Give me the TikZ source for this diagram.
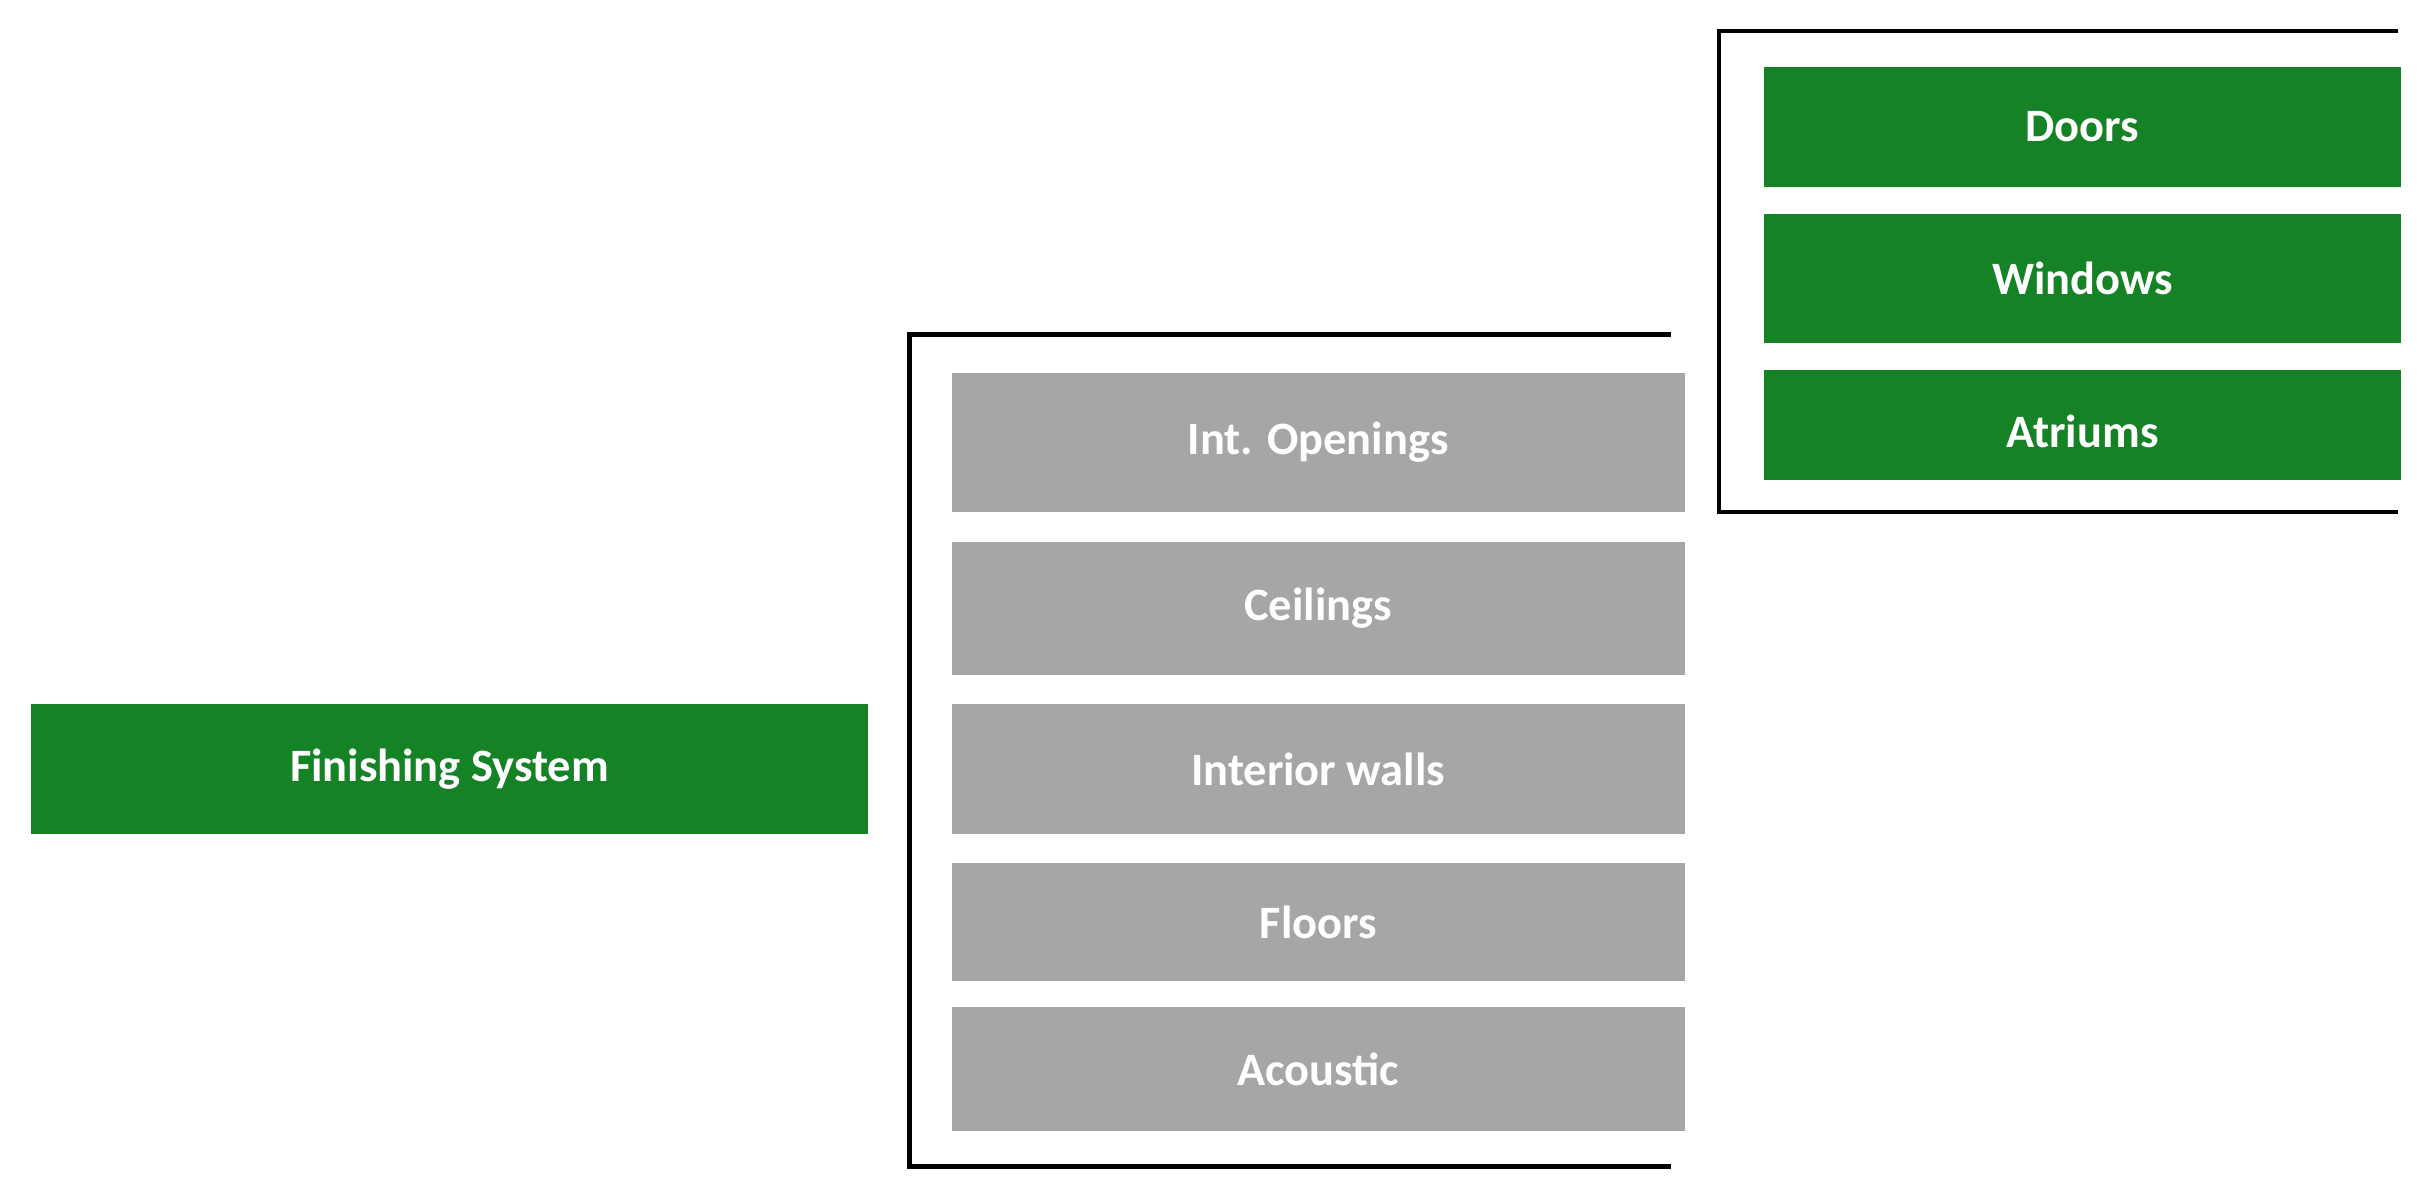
\documentclass[tikz,border=0pt]{standalone}
\usepackage{fontspec}
\setmainfont{Carlito}
\definecolor{fg}{HTML}{158225}
\definecolor{gy}{HTML}{A6A6A6}
\begin{document}
\begin{tikzpicture}[x=0.5pt,y=-0.5pt,
  box/.style={draw=none,text=white,font=\bfseries\fontsize{15}{18}\selectfont,inner sep=0pt},
  brk/.style={line width=1.5pt,black}]
\useasboundingbox (0,0) rectangle (1568,776);
\newcommand{\bx}[6]{\fill[#5] (#1,#2) rectangle (#3,#4); \node[box] (#6) at ({(#1+#3)/2},{(#2+#4)/2}) {#6};}
\fill[fg] (20,455) rectangle (561,539);
\node[box] (fs) at (290.5,497) {Finishing System};
\fill[gy] (615,241) rectangle (1089,331); \node[box] (io) at (852,286) {Int. Openings};
\fill[gy] (615,350) rectangle (1089,436); \node[box] (ce) at (852,393) {Ceilings};
\fill[gy] (615,455) rectangle (1089,539); \node[box] (iw) at (852,497) {Interior walls};
\fill[gy] (615,558) rectangle (1089,634); \node[box] (fl) at (852,596) {Floors};
\fill[gy] (615,651) rectangle (1089,731); \node[box] (ac) at (852,691) {Acoustic};
\fill[fg] (1140,43) rectangle (1552,121); \node[box] (do) at (1346,82) {Doors};
\fill[fg] (1140,138) rectangle (1552,222); \node[box] (wi) at (1346,180) {Windows};
\fill[fg] (1140,239) rectangle (1552,310); \node[box] (at) at (1346,279) {Atriums};
\draw[brk] (1080,216) -- (588,216) -- (588,754) -- (1080,754);
\draw[brk] (1550,20) -- (1111,20) -- (1111,331) -- (1550,331);
\end{tikzpicture}
\end{document}
